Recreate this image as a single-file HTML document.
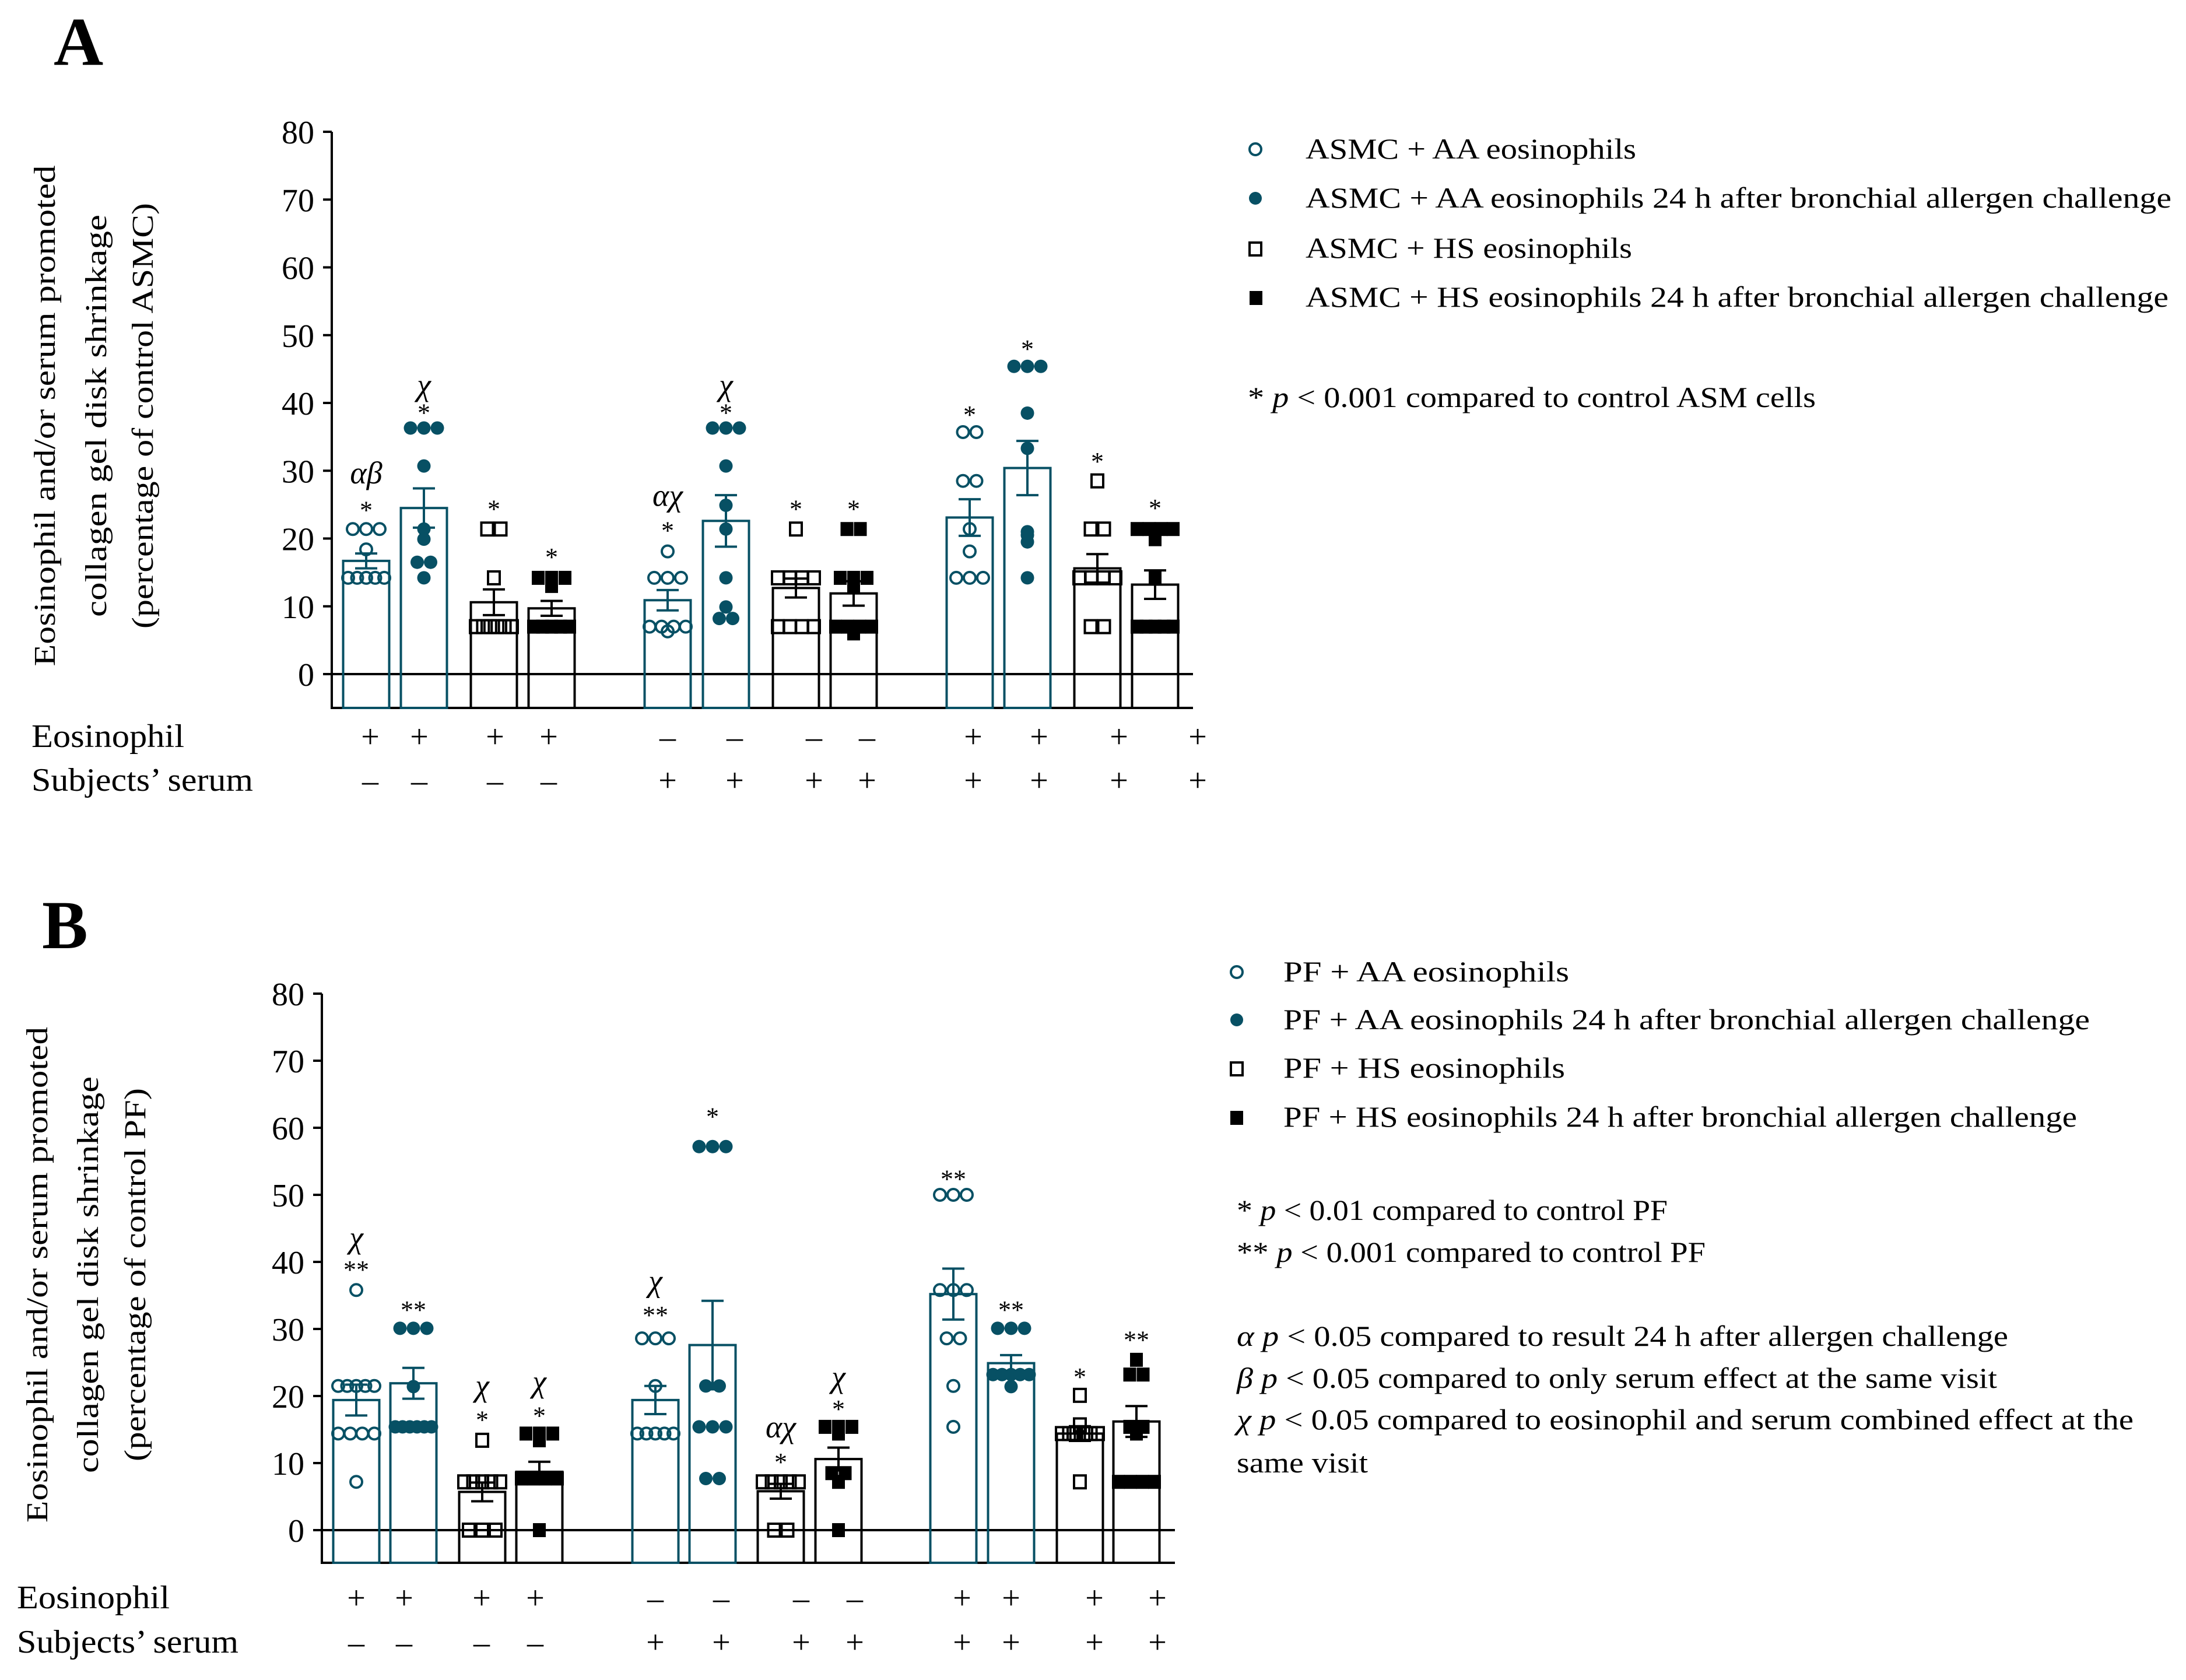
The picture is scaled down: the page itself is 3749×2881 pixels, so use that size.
<!DOCTYPE html>
<html><head><meta charset="utf-8"><style>
html,body{margin:0;padding:0;background:#fff;}
svg{display:block;}
text{font-family:"Liberation Serif",serif;fill:#000;}
</style></head><body>
<svg id="fig" width="3749" height="2881" viewBox="0 0 3749 2881" xmlns="http://www.w3.org/2000/svg">
<text x="92" y="111" font-size="118" font-weight="bold">A</text>
<text x="72" y="1626" font-size="118" font-weight="bold">B</text>

<g>
<circle cx="2153" cy="256" r="10" fill="none" stroke="#075064" stroke-width="4"/>
<text x="2239" y="272" font-size="50" textLength="567" lengthAdjust="spacingAndGlyphs">ASMC + AA eosinophils</text>
<circle cx="2153" cy="340" r="11" fill="#075064"/>
<text x="2239" y="356" font-size="50" textLength="1485" lengthAdjust="spacingAndGlyphs">ASMC + AA  eosinophils 24 h after bronchial allergen challenge</text>
<rect x="2143" y="416" width="20" height="22" fill="none" stroke="#000" stroke-width="4"/>
<text x="2239" y="442" font-size="50" textLength="560" lengthAdjust="spacingAndGlyphs">ASMC + HS eosinophils</text>
<rect x="2143" y="499" width="22" height="24" fill="#000"/>
<text x="2239" y="526" font-size="50" textLength="1480" lengthAdjust="spacingAndGlyphs">ASMC + HS  eosinophils 24 h after bronchial allergen challenge</text>
<text x="2140" y="698" font-size="50" textLength="974" lengthAdjust="spacingAndGlyphs">*  <tspan font-style="italic">p</tspan> &lt; 0.001 compared to control ASM cells</text>
</g>

<g>
<circle cx="2121" cy="1667" r="10" fill="none" stroke="#075064" stroke-width="4"/>
<text x="2201" y="1683" font-size="50" textLength="490" lengthAdjust="spacingAndGlyphs">PF  + AA eosinophils</text>
<circle cx="2121" cy="1749" r="11" fill="#075064"/>
<text x="2201" y="1765" font-size="50" textLength="1383" lengthAdjust="spacingAndGlyphs">PF  + AA eosinophils 24 h after bronchial allergen challenge</text>
<rect x="2111" y="1822" width="20" height="22" fill="none" stroke="#000" stroke-width="4"/>
<text x="2201" y="1848" font-size="50" textLength="483" lengthAdjust="spacingAndGlyphs">PF  + HS eosinophils</text>
<rect x="2110" y="1905" width="22" height="24" fill="#000"/>
<text x="2201" y="1932" font-size="50" textLength="1361" lengthAdjust="spacingAndGlyphs">PF + HS eosinophils 24 h after bronchial allergen challenge</text>
<text x="2121" y="2092" font-size="50" textLength="739" lengthAdjust="spacingAndGlyphs">*  <tspan font-style="italic">p</tspan> &lt; 0.01 compared to control PF</text>
<text x="2121" y="2164" font-size="50" textLength="804" lengthAdjust="spacingAndGlyphs">** <tspan font-style="italic">p</tspan> &lt; 0.001 compared to control PF</text>
<text x="2121" y="2308" font-size="50" textLength="1323" lengthAdjust="spacingAndGlyphs"><tspan font-style="italic">α p</tspan> &lt; 0.05 compared to result 24 h after allergen challenge</text>
<text x="2121" y="2380" font-size="50" textLength="1304" lengthAdjust="spacingAndGlyphs"><tspan font-style="italic">β p</tspan> &lt; 0.05 compared to only serum effect at the same visit</text>
<text x="2121" y="2451" font-size="50" textLength="1538" lengthAdjust="spacingAndGlyphs"><tspan font-style="italic">χ p</tspan> &lt; 0.05 compared to eosinophil and serum combined effect at the</text>
<text x="2121" y="2525" font-size="50" textLength="225" lengthAdjust="spacingAndGlyphs">same visit</text>
</g>
</svg>
<script>
// ---------- Panel A data ----------
const barColorsA = ['t','t','k','k','t','t','k','k','t','t','k','k'];
const markersA = ['oc','fc','os','fs','oc','fc','os','fs','oc','fc','os','fs'];
const meansA = [16.7,24.5,10.6,9.7,10.9,22.6,12.7,11.9,23.1,30.4,15.6,13.2];
const semA = [1.1,2.9,1.9,1.1,1.5,3.8,1.4,1.8,2.7,4.0,2.1,2.1];
const pointsA = [
 [21.4,21.4,21.4,18.4,14.2,14.2,14.2,14.2,14.2],
 [36.3,36.3,36.3,30.7,21.4,19.9,16.5,16.5,14.2],
 [21.4,21.4,14.2,7.0,7.0,7.0,7.0,7.0,7.0],
 [14.2,14.2,14.2,13.0,7.0,7.0,7.0,7.0,7.0],
 [18.1,14.2,14.2,14.2,7.0,7.0,7.0,7.0,6.3],
 [36.3,36.3,36.3,30.7,24.9,21.4,14.2,9.9,8.2,8.2],
 [21.4,14.2,14.2,14.2,14.2,7.0,7.0,7.0,7.0],
 [21.4,21.4,14.2,14.2,14.2,13.0,7.0,7.0,7.0,7.0,6.0],
 [35.7,35.7,28.5,28.5,21.4,18.1,14.2,14.2,14.2],
 [45.4,45.4,45.4,38.5,33.3,21.0,20.5,19.5,14.2],
 [28.5,21.4,21.4,14.2,14.2,14.2,14.2,7.0,7.0],
 [21.4,21.4,21.4,21.4,19.9,14.2,7.0,7.0,7.0,7.0,7.0]
];
const annotA = [['αβ','*'],['χ','*'],['','*'],['','*'],['αχ','*'],['χ','*'],['','*'],['','*'],['','*'],['','*'],['','*'],['','*']];
const annotTopA = [29.5,42.5,0,0,26.2,42.5,0,0,0,0,0,0];
const annotStarA = [24.8,39.2,25.0,17.9,21.8,39.2,25.0,25.0,38.9,48.6,32.0,25.1];
const eosA = ['+','+','+','+','–','–','–','–','+','+','+','+'];
const serumA = ['–','–','–','–','+','+','+','+','+','+','+','+'];
const yTicks = [0,10,20,30,40,50,60,70,80];

// ---------- Panel B data ----------
const barColorsB = barColorsA;
const markersB = markersA;
const meansB = [19.4,21.9,5.7,8.7,19.4,27.6,5.8,10.6,35.2,24.9,14.4,16.2];
const semB = [2.3,2.3,1.4,1.5,2.1,6.6,1.1,1.7,3.8,1.2,1.1,2.3];
const pointsB = [
 [35.8,21.5,21.5,21.5,21.5,21.5,14.4,14.4,14.4,14.4,7.2],
 [30.1,30.1,30.1,21.4,15.4,15.4,15.4,15.4,15.4,15.4],
 [13.4,7.2,7.2,7.2,7.2,7.2,0,0,0],
 [14.4,14.4,14.4,13.4,7.7,7.7,7.7,7.7,0],
 [28.6,28.6,28.6,21.5,14.4,14.4,14.4,14.4,14.4],
 [57.2,57.2,57.2,21.5,21.5,15.4,15.4,15.4,7.7,7.7],
 [7.2,7.2,7.2,7.2,7.2,0,0],
 [15.4,15.4,15.4,14.4,8.5,8.5,7.2,0],
 [50,50,50,35.8,35.8,35.8,28.6,28.6,21.5,15.4],
 [30.1,30.1,30.1,23.2,23.2,23.2,23.2,23.2,21.4],
 [20.1,15.7,14.4,14.4,14.4,14.4,14.4,14.4,7.2],
 [25.4,23.2,23.2,15.4,15.4,14.4,7.2,7.2,7.2,7.2]
];
const annotB = [['χ','**'],['','**'],['χ','*'],['χ','*'],['χ','**'],['','*'],['αχ','*'],['χ','*'],['','**'],['','**'],['','*'],['','**']];
const annotTopB = [43.5,0,21.4,22.0,37.0,0,15.2,22.7,0,0,0,0];
const annotStarB = [39.5,33.5,17.1,17.7,32.7,62.3,10.8,18.7,53.0,33.5,23.5,29.0];
const eosB = eosA;
const serumB = serumA;

const NS = 'http://www.w3.org/2000/svg';
const svg = document.getElementById('fig');
const TEAL = '#075064';
function mk(tag, attrs, parent, txt) {
  const e = document.createElementNS(NS, tag);
  for (const k in attrs) e.setAttribute(k, attrs[k]);
  if (txt !== undefined) e.textContent = txt;
  (parent || svg).appendChild(e);
  return e;
}

function drawPanel(cfg) {
  const g = mk('g', {});
  
  
  const y = v => cfg.y0 - v * cfg.pxPerUnit;
  const x = i => cfg.barX[i];
  const ax = mk('line', {x1: cfg.axX, y1: y(80), x2: cfg.axX, y2: cfg.yBottom, stroke: '#000', 'stroke-width': 4}, g);
  
  
  const bx = mk('line', {x1: cfg.axX - 2, y1: cfg.yBottom, x2: cfg.axEnd, y2: cfg.yBottom, stroke: '#000', 'stroke-width': 4}, g);
  
  
  yTicks.forEach(t => {
    const tl = mk('line', {x1: cfg.axX - 15, y1: y(t), x2: cfg.axX, y2: y(t), stroke: '#000', 'stroke-width': 4}, g);
    
    
    const tx = mk('text', {x: cfg.axX - 30, y: y(t) + 20, 'font-size': 56, 'text-anchor': 'end'}, g, String(t));
    
    
  });
  const zl = mk('line', {x1: cfg.axX, y1: y(0), x2: cfg.axEnd, y2: y(0), stroke: '#000', 'stroke-width': 4}, g);
  
  
  cfg.titleLines.forEach((ln, i) => {
    const tt = mk('text', {x: 0, y: 0, 'font-size': 52, 'text-anchor': 'middle', transform: `translate(${cfg.titleX[i]},${cfg.titleCY}) rotate(-90)`, textLength: cfg.titleLen[i], lengthAdjust: 'spacingAndGlyphs'}, g, ln);
    
    
  });
  const bw = 79;
  cfg.means.forEach((m, i) => {
    const col = cfg.colors[i] === 't' ? TEAL : '#000';
    const cx = x(i);
    const bar = mk('rect', {x: cx - bw / 2, y: y(m), width: bw, height: cfg.yBottom - y(m), fill: 'none', stroke: col, 'stroke-width': 4}, g);
    
    
    const pts = cfg.points[i];
    const groups = {};
    pts.forEach(v => { const k = v.toFixed(1); (groups[k] = groups[k] || []).push(v); });
    Object.keys(groups).forEach(k => {
      const arr = groups[k];
      const n = arr.length;
      const step = n > 1 ? Math.min(23, 62 / (n - 1)) : 0;
      arr.forEach((v, j) => {
        const px = cx + (j - (n - 1) / 2) * step;
        const py = y(v);
        const mkr = cfg.markers[i];
        let el;
        if (mkr === 'oc') el = mk('ellipse', {cx: px, cy: py, rx: 10, ry: 10, fill: 'none', stroke: TEAL, 'stroke-width': 4}, g);
        else if (mkr === 'fc') el = mk('ellipse', {cx: px, cy: py, rx: 11.5, ry: 11.5, fill: TEAL}, g);
        else if (mkr === 'os') el = mk('rect', {x: px - 10, y: py - 11, width: 20, height: 22, fill: 'none', stroke: '#000', 'stroke-width': 4}, g);
        else el = mk('rect', {x: px - 11, y: py - 12, width: 22, height: 24, fill: '#000'}, g);
        
        
      });
    });
    const top = y(m + cfg.sem[i]), bot = y(m - cfg.sem[i]);
    const e1 = mk('line', {x1: cx, y1: top, x2: cx, y2: bot, stroke: col, 'stroke-width': 4}, g);
    
    
    [top, bot].forEach(yy => {
      const c = mk('line', {x1: cx - 19, y1: yy, x2: cx + 19, y2: yy, stroke: col, 'stroke-width': 4}, g);
      
      
    });
    const st = mk('text', {x: cx, y: y(cfg.annStar[i]) + 22, 'font-size': 44, 'text-anchor': 'middle'}, g, cfg.ann[i][1]);
    
    
    if (cfg.ann[i][0]) {
      const gr = mk('text', {x: cx, y: y(cfg.annTop[i]) + 16, 'font-size': 54, 'font-style': 'italic', 'text-anchor': 'middle'}, g, cfg.ann[i][0]);
      
      
    }
  });
  const l1 = mk('text', {x: cfg.rowLabelX, y: cfg.eosY + 16, 'font-size': 56, textLength: 262, lengthAdjust: 'spacingAndGlyphs'}, g, 'Eosinophil');
  
  
  const l2 = mk('text', {x: cfg.rowLabelX, y: cfg.serY + 16, 'font-size': 56, textLength: 380, lengthAdjust: 'spacingAndGlyphs'}, g, 'Subjects’ serum');
  
  
  cfg.eos.forEach((s, i) => {
    const t = mk('text', {x: cfg.signX[i], y: cfg.eosY + 17, 'font-size': 56, 'text-anchor': 'middle'}, g, s);
    
    
  });
  cfg.ser.forEach((s, i) => {
    const t = mk('text', {x: cfg.signX[i], y: cfg.serY + 17, 'font-size': 56, 'text-anchor': 'middle'}, g, s);
    
    
  });
}

drawPanel({
  name: 'panel-a-chart', y0: 1156, pxPerUnit: 11.625, yBottom: 1214, axX: 569, axEnd: 2046,
  barX: [628,727,847,946,1145,1245,1365,1464,1663,1762,1882,1981],
  means: meansA, sem: semA, points: pointsA, colors: barColorsA, markers: markersA,
  ann: annotA, annTop: annotTopA, annStar: annotStarA,
  titleLines: ['Eosinophil and/or serum promoted', 'collagen gel disk shrinkage', '(percentage of control ASMC)'],
  titleX: [94, 182, 262], titleCY: 713, titleLen: [859, 690, 730],
  rowLabelX: 54, eosY: 1265, serY: 1340, eos: eosA, ser: serumA,
  signX: [635,719,849,941,1145,1260,1396,1487,1669,1782,1919,2054]
});
drawPanel({
  name: 'panel-b-chart', y0: 2624, pxPerUnit: 11.5, yBottom: 2680, axX: 552, axEnd: 2015,
  barX: [611,709,827,925,1124,1222,1339,1438,1635,1734,1852,1949],
  means: meansB, sem: semB, points: pointsB, colors: barColorsB, markers: markersB,
  ann: annotB, annTop: annotTopB, annStar: annotStarB,
  titleLines: ['Eosinophil and/or serum promoted', 'collagen gel disk shrinkage', '(percentage of control PF)'],
  titleX: [81, 168, 249], titleCY: 2186, titleLen: [850, 680, 640],
  rowLabelX: 29, eosY: 2742, serY: 2818, eos: eosB, ser: serumB,
  signX: [611,693,826,918,1124,1237,1374,1466,1650,1734,1877,1985]
});
</script>
</body></html>
